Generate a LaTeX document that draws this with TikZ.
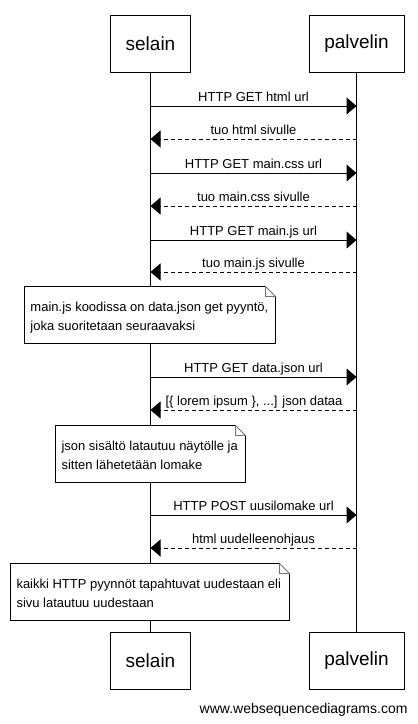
\documentclass[tikz,border=0pt]{standalone}
\usepackage{fontspec}
\setmainfont{Liberation Sans}
\usetikzlibrary{arrows.meta}
\begin{document}
\begin{tikzpicture}[x=1pt,y=-1pt,line width=1pt,
  actor/.style={draw,fill=white,minimum width=80pt,minimum height=57pt,inner sep=0pt,font=\fontsize{19}{22}\selectfont},
  msglbl/.style={font=\fontsize{13}{15}\selectfont,inner sep=0pt,anchor=base},
  req/.style={-{Triangle[length=10pt,width=17pt]}},
  resp/.style={dash pattern=on 4pt off 3pt,-{Triangle[length=10pt,width=17pt]}},
  notetxt/.style={font=\fontsize{13}{19}\selectfont,inner sep=0pt,anchor=north west,align=left}]
\useasboundingbox[fill=white] (0,0) rectangle (418,724);
% actors
\node[actor] (s1) at (150.5,43.5) {selain};
\node[actor,minimum width=95pt] (p1) at (356.5,43.5) {palvelin};
\node[actor] (s2) at (150.5,661) {selain};
\node[actor,minimum width=95pt] (p2) at (356.5,661) {palvelin};
\draw (s1.south) -- (s2.north);
\draw (p1.south) -- (p2.north);
% lifeline coordinates
\coordinate (sa) at (150.5,106); \coordinate (pa) at (356.5,106);
\coordinate (sb) at (150.5,139); \coordinate (pb) at (356.5,139);
\coordinate (sc) at (150.5,173); \coordinate (pc) at (356.5,173);
\coordinate (sd) at (150.5,206); \coordinate (pd) at (356.5,206);
\coordinate (se) at (150.5,240); \coordinate (pe) at (356.5,240);
\coordinate (sf) at (150.5,272); \coordinate (pf) at (356.5,272);
\coordinate (sg) at (150.5,377); \coordinate (pg) at (356.5,377);
\coordinate (sh) at (150.5,410); \coordinate (ph) at (356.5,410);
\coordinate (si) at (150.5,515); \coordinate (pi) at (356.5,515);
\coordinate (sj) at (150.5,548); \coordinate (pj) at (356.5,548);
% messages
\draw[req] (sa) -- (pa);
\node[msglbl] (la) at (253.5,101) {HTTP GET html url};
\draw[resp] (pb) -- (sb);
\node[msglbl] (lb) at (253.5,134) {tuo html sivulle};
\draw[req] (sc) -- (pc);
\node[msglbl] (lc) at (253.5,168) {HTTP GET main.css url};
\draw[resp] (pd) -- (sd);
\node[msglbl] (ld) at (253.5,201) {tuo main.css sivulle};
\draw[req] (se) -- (pe);
\node[msglbl] (le) at (253.5,235) {HTTP GET main.js url};
\draw[resp] (pf) -- (sf);
\node[msglbl] (lf) at (253.5,267) {tuo main.js sivulle};
\draw[req] (sg) -- (pg);
\node[msglbl] (lg) at (253.5,372) {HTTP GET data.json url};
\draw[resp] (ph) -- (sh);
\node[msglbl] (lh) at (254,405) {[\{ lorem ipsum \}, ...] json dataa};
\draw[req] (si) -- (pi);
\node[msglbl] (li) at (253.5,510) {HTTP POST uusilomake url};
\draw[resp] (pj) -- (sj);
\node[msglbl] (lj) at (253.5,543) {html uudelleenohjaus};
% notes
\newcommand{\notebox}[5]{%
  \fill[white] (#1,#2) -- (#3-10,#2) -- (#3,#2+10) -- (#3,#4) -- (#1,#4) -- cycle;
  \draw (#3-10,#2) -- (#1,#2) -- (#1,#4) -- (#3,#4) -- (#3,#2+10);
  \draw[black!55,line width=0.8pt] (#3-10,#2) -- (#3-10,#2+10) -- (#3,#2+10) -- cycle;
  \coordinate (#5) at (#1,#2);}
\notebox{24.5}{286.5}{275.5}{343.5}{n1}
\node[notetxt] (t1) at (30,301.5) {main.js koodissa on data.json get pyyntö,\\joka suoritetaan seuraavaksi};
\notebox{55.5}{425.5}{245.5}{482.5}{n2}
\node[notetxt] (t2) at (61,440.5) {json sisältö latautuu näytölle ja\\sitten lähetetään lomake};
\notebox{10.5}{563.5}{289.5}{620.5}{n3}
\node[notetxt] (t3) at (16,578.5) {kaikki HTTP pyynnöt tapahtuvat uudestaan eli\\sivu latautuu uudestaan};
% footer
\node[font=\fontsize{14}{16}\selectfont,anchor=base east,inner sep=0pt] (foot) at (408,713) {www.websequencediagrams.com};
\end{tikzpicture}
\end{document}
